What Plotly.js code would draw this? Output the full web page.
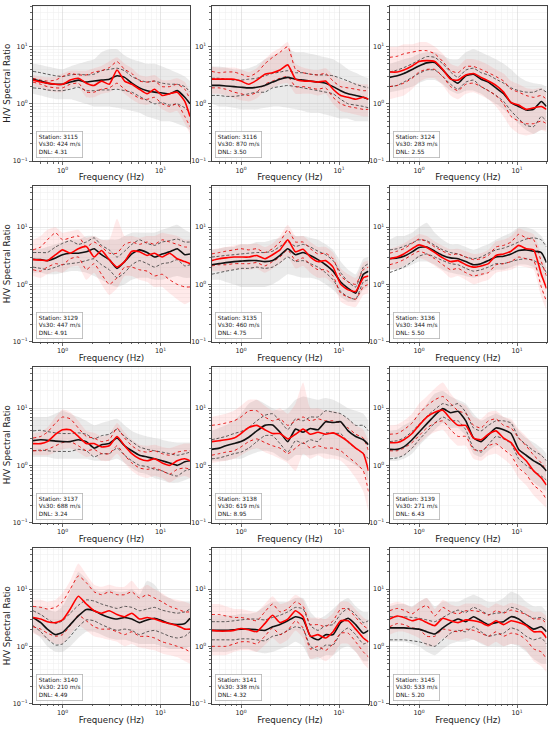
<!DOCTYPE html>
<html><head><meta charset="utf-8">
<script src="https://cdn.plot.ly/plotly-3.0.1.min.js"></script>
<style>body{margin:0;background:#fff}#chart{width:550px;height:729px}</style>
</head><body><div id="chart"></div>
<script>
// Frequency sample points (Hz)
const FREQ = [0.5,0.6,0.7,0.85,1.0,1.2,1.45,1.75,2.1,2.5,3.0,3.6,4.3,5.1,6.1,7.3,8.7,10.4,12.4,14.8,17.7,20];

const stations = ['3115','3116','3124','3129','3135','3136','3137','3138','3139','3140','3141','3145'];
const vs30 = [424,870,283,447,460,344,688,619,271,210,338,533];
const dnl = ['4.31','3.50','2.55','4.91','4.75','5.50','3.24','8.95','6.43','4.49','4.32','5.20'];

const xTickVals = [1,10];
const xTickText = ['10<sup>0</sup>','10<sup>1</sup>'];
const yTickVals = [0.1,1,10];
const yTickText = ['10<sup>−1</sup>','10<sup>0</sup>','10<sup>1</sup>'];
const xMinorVals = [0.6,0.7,0.8,0.9,2,3,4,5,6,7,8,9,20];
const yMinorVals = [0.2,0.3,0.4,0.5,0.6,0.7,0.8,0.9,2,3,4,5,6,7,8,9,20,30,40,50];

// envelope of all individual (grey) curves
const grayHi = [
 [5.0,4.8,4.5,4.2,4.0,4.5,5.0,5.5,6.0,8.0,9.0,9.0,7.0,6.0,5.5,5.0,5.0,4.5,4.0,3.5,3.0,2.5],
 [4.5,4.5,4.3,4.0,4.0,4.2,4.8,6.0,7.0,8.0,9.0,8.0,8.0,7.5,7.0,6.5,6.0,5.0,4.0,3.5,3.0,2.8],
 [5.0,5.5,6.0,6.5,7.5,8.0,8.0,7.0,6.0,6.0,8.0,9.0,8.0,7.0,6.0,5.0,4.0,3.0,2.5,2.3,2.2,2.0],
 [4.0,4.2,4.5,5.0,5.5,6.0,6.0,7.0,7.0,6.0,6.0,6.0,7.0,8.0,8.0,8.0,8.0,9.0,10,11,9.0,8.0],
 [4.0,4.2,4.5,4.5,5.0,5.0,5.5,5.5,6.0,6.5,8.0,7.0,7.0,6.5,6.0,5.0,4.0,2.5,1.8,1.5,2.8,3.0],
 [6.0,7.0,7.0,8.0,10,12,8.0,6.0,5.0,5.0,4.5,4.0,4.5,5.0,6.0,7.0,8.0,10,10,9.0,7.0,5.0],
 [7.0,7.0,7.0,8.0,9.0,8.0,7.0,6.0,5.0,5.5,6.0,6.5,5.0,4.0,3.5,3.2,3.0,2.8,2.6,2.5,2.5,2.5],
 [4.0,4.5,5.0,6.0,8.0,12,14,12,10,9.0,10,14,16,15,14,15,14,12,10,9.0,8.0,6.0],
 [4.0,4.2,5.0,6.0,8.0,12,18,20,16,14,12,8.0,6.0,7.0,8.0,7.0,6.0,4.0,3.0,2.5,2.0,1.6],
 [5.0,5.0,4.5,4.0,5.0,9.0,20,15,10,9.0,10,9.0,9.0,10,8.0,14,12,8.0,7.0,6.0,6.0,6.0],
 [3.5,3.5,3.5,3.5,3.7,3.7,4.0,5.0,6.0,6.0,6.0,7.0,7.0,4.0,3.0,3.5,4.5,6.0,7.0,5.0,4.0,4.0],
 [5.0,5.5,5.5,5.0,6.0,7.0,5.0,6.0,6.0,6.0,7.0,8.0,7.0,6.0,6.0,7.0,9.0,8.0,6.0,5.0,5.0,4.0]
];
const grayLo = [
 [1.5,1.4,1.3,1.2,1.2,1.2,1.1,1.0,0.9,0.9,0.9,0.85,0.8,0.75,0.7,0.6,0.55,0.5,0.5,0.45,0.4,0.35],
 [1.0,0.9,0.9,0.85,0.8,0.8,0.8,0.85,0.9,0.9,0.85,0.8,0.75,0.7,0.7,0.65,0.6,0.55,0.55,0.5,0.5,0.5],
 [1.6,1.7,1.8,2.0,2.3,2.6,2.6,2.2,1.7,1.5,1.7,1.7,1.5,1.2,1.0,0.8,0.6,0.45,0.35,0.3,0.35,0.35],
 [1.6,1.6,1.5,1.5,1.6,1.7,1.7,1.6,1.4,1.2,1.0,0.9,1.0,1.2,1.3,1.3,1.2,1.2,1.3,1.4,1.3,1.3],
 [1.2,1.2,1.1,1.0,0.9,0.9,0.9,0.9,1.0,1.2,1.5,1.4,1.3,1.3,1.2,1.0,0.8,0.6,0.5,0.5,0.8,0.9],
 [1.8,1.8,1.9,2.2,2.5,2.5,2.2,1.8,1.6,1.5,1.4,1.3,1.4,1.6,1.8,1.8,2.0,2.2,2.2,2.0,1.3,1.0],
 [1.4,1.4,1.4,1.3,1.3,1.3,1.3,1.3,1.2,1.2,1.2,1.3,1.1,0.9,0.75,0.7,0.6,0.55,0.5,0.5,0.55,0.6],
 [1.2,1.2,1.2,1.3,1.3,1.5,1.7,1.8,1.7,1.4,1.2,1.5,1.5,1.5,1.6,1.6,1.5,1.4,1.2,1.0,0.8,0.5],
 [1.2,1.2,1.3,1.6,2.2,3.0,4.2,5.5,4.5,4.5,3.3,1.6,1.4,1.8,2.2,2.0,1.6,1.0,0.7,0.5,0.4,0.35],
 [1.8,1.4,1.0,0.8,0.8,1.0,1.4,1.8,1.8,1.6,1.4,1.3,1.3,1.2,1.1,1.1,1.1,1.0,0.9,0.9,0.9,1.0],
 [0.8,0.8,0.8,0.85,0.9,0.9,0.8,0.75,0.8,0.9,1.0,1.2,1.0,0.6,0.6,0.7,0.7,0.9,1.0,0.8,0.55,0.55],
 [1.2,1.2,1.2,1.1,1.0,0.8,0.7,0.9,1.1,1.2,1.2,1.3,1.1,1.0,1.0,1.0,1.1,1.0,0.8,0.6,0.5,0.5]
];
// envelope of the individual selected (pink) curves
const pinkHi = [
 [3.2,3.0,2.9,3.0,3.4,3.8,3.8,3.8,4.2,4.6,5.5,6.5,5.0,4.2,3.2,3.0,3.2,2.6,2.6,2.8,2.4,1.6],
 [4.5,4.3,4.3,4.3,4.0,3.6,4.2,6.0,8.0,9.5,12,5.0,4.3,4.0,3.9,4.2,3.2,2.6,2.4,2.3,2.2,2.2],
 [10,10,11,11,12,12,10,7.5,5.0,4.5,6.0,6.0,5.5,4.8,4.0,3.4,2.5,2.2,1.9,1.8,1.9,1.6],
 [6.0,7.0,9.0,10,8.0,8.5,9.0,6.5,7.0,6.0,6.0,14,7.0,7.0,6.5,7.0,7.0,8.0,7.5,7.0,6.0,6.0],
 [4.0,4.3,4.5,4.8,5.0,5.0,5.2,4.5,5.2,7.0,11,7.0,7.0,5.5,4.5,4.5,3.6,1.9,1.5,1.3,2.4,2.6],
 [4.2,4.6,5.2,6.4,7.6,7.0,5.6,4.7,4.1,4.2,3.8,3.4,3.5,4.0,5.6,6.0,7.0,9.5,8.5,7.5,3.4,1.9],
 [3.6,3.9,4.6,7.0,9.5,8.5,6.0,4.0,3.7,3.2,3.5,5.5,3.8,2.8,2.3,2.2,2.3,2.1,2.0,2.2,2.4,2.4],
 [7.0,7.5,8.0,9.0,11,14,14,11,9.0,10,8.0,12,28,10,10,9.0,9.0,8.0,6.5,5.0,4.2,2.6],
 [5.0,5.2,6.0,8.0,12,16,22,28,18,13,11,7.0,6.5,8.5,9.0,7.0,6.5,4.3,3.2,2.2,1.6,1.2],
 [6.5,6.5,6.0,6.5,8.5,14,28,18,12,11,12,11,11,14,10,12,10,8.5,7.0,6.5,6.0,5.5],
 [5.5,5.5,5.0,4.5,4.5,4.2,4.0,5.5,7.5,5.5,6.0,8.0,6.5,3.2,3.2,3.0,3.8,6.0,6.0,4.4,3.2,2.8],
 [5.5,6.0,5.6,4.8,6.0,7.0,4.5,6.5,5.4,5.0,5.6,5.6,5.4,4.7,5.6,5.1,5.8,5.4,4.8,4.0,4.0,3.4]
];
const pinkLo = [
 [2.1,1.9,1.7,1.6,1.6,1.9,2.0,1.3,1.3,1.5,1.6,1.9,1.5,1.2,1.0,0.95,1.05,0.8,0.7,0.75,0.45,0.3],
 [1.5,1.5,1.4,1.25,1.15,1.1,1.25,1.7,1.9,2.2,2.3,1.5,1.5,1.5,1.4,1.5,1.0,0.75,0.7,0.65,0.6,0.6],
 [1.2,1.3,1.4,1.8,2.4,2.8,2.8,2.1,1.4,1.2,1.5,1.6,1.4,1.2,0.9,0.6,0.38,0.3,0.28,0.3,0.35,0.32],
 [1.4,1.3,1.5,1.7,1.6,2.0,2.1,1.2,1.6,1.0,0.65,0.85,1.4,1.4,1.2,1.1,0.9,0.9,0.7,0.55,0.45,0.5],
 [1.7,1.7,1.7,1.8,1.8,1.8,1.9,1.6,1.9,2.3,3.0,1.9,2.1,1.6,1.3,1.3,1.0,0.5,0.42,0.4,0.65,0.7],
 [1.8,1.9,2.1,2.6,2.9,2.6,2.1,1.7,1.3,1.4,1.2,1.0,1.1,1.2,1.6,1.7,1.8,2.1,2.0,1.8,0.6,0.35],
 [1.5,1.5,1.5,1.7,1.9,2.0,1.7,1.4,1.5,1.2,1.2,1.6,1.1,0.8,0.65,0.6,0.65,0.6,0.5,0.6,0.65,0.6],
 [1.1,1.15,1.2,1.3,1.5,1.8,2.0,1.7,1.5,1.3,1.1,0.8,1.6,1.3,1.5,1.3,1.3,1.2,0.9,0.6,0.35,0.15],
 [1.4,1.4,1.5,1.9,2.4,3.2,3.8,4.2,2.9,2.2,2.2,1.3,1.2,1.5,1.6,1.3,1.0,0.6,0.45,0.3,0.22,0.18],
 [1.7,1.5,1.3,1.1,1.1,1.6,2.3,1.9,1.5,1.4,1.3,1.2,1.0,1.1,0.95,0.9,0.85,0.75,0.7,0.65,0.55,0.5],
 [0.7,0.7,0.7,0.8,0.85,0.85,0.8,1.05,1.4,1.1,1.3,1.9,1.4,0.6,0.65,0.55,0.7,1.1,1.1,0.8,0.5,0.4],
 [1.6,1.8,1.8,1.6,1.4,1.0,1.0,1.4,1.3,1.25,1.4,1.3,1.15,1.0,1.2,1.0,1.1,1.05,0.85,0.55,0.45,0.35]
];
// mean and +/- std of all records (black)
const blackMean = [
 [2.7,2.5,2.3,2.2,2.2,2.4,2.6,2.4,2.5,2.6,2.7,3.1,2.9,2.3,1.9,1.7,1.6,1.55,1.5,1.7,1.3,1.0],
 [2.1,2.1,2.05,2.0,1.95,1.9,1.95,2.1,2.4,2.7,2.9,2.7,2.6,2.5,2.4,2.3,2.0,1.7,1.5,1.4,1.3,1.2],
 [2.9,3.1,3.4,4.0,4.6,5.2,5.3,3.9,2.8,2.3,3.1,3.3,2.7,2.4,1.9,1.5,1.05,0.9,0.78,0.8,1.1,0.9],
 [2.75,2.7,2.6,2.9,3.3,3.5,3.5,3.7,4.2,3.3,2.7,1.9,2.5,3.4,4.0,3.6,3.0,3.4,3.7,4.2,3.3,3.4],
 [2.2,2.3,2.4,2.5,2.55,2.6,2.6,2.5,2.6,3.2,4.2,3.3,3.6,3.2,2.7,2.2,1.7,1.1,0.85,0.7,1.5,1.7],
 [2.8,2.9,3.1,3.7,4.4,4.5,3.8,3.2,2.9,2.8,2.5,2.2,2.3,2.6,3.0,3.1,3.4,3.9,4.0,3.8,3.6,2.4],
 [2.7,2.8,2.75,2.65,2.6,2.6,2.8,2.6,2.0,2.3,2.4,3.0,2.2,1.8,1.5,1.4,1.3,1.2,1.1,1.0,1.15,1.2],
 [1.9,2.0,2.2,2.4,2.6,3.1,4.0,5.0,5.1,3.8,2.6,4.3,3.8,4.4,4.2,5.8,5.6,5.8,4.0,3.2,2.8,2.3],
 [1.9,1.9,2.1,2.8,3.8,5.3,7.5,9.8,8.3,8.8,6.0,3.0,2.6,3.4,4.5,4.2,3.6,1.9,1.5,1.2,1.0,0.8],
 [3.2,2.6,2.0,1.6,1.75,2.4,3.4,4.4,4.2,3.6,3.2,3.0,3.2,3.0,2.6,2.9,3.1,2.8,2.5,2.4,2.5,3.1],
 [1.9,1.9,1.9,1.95,2.0,2.0,1.95,1.9,2.2,2.4,2.8,3.3,3.0,1.5,1.3,1.6,1.6,2.6,3.1,2.4,1.7,1.9],
 [2.1,2.1,2.1,2.05,2.0,1.8,1.65,2.1,2.6,3.0,2.7,3.3,2.8,2.4,2.6,2.7,3.3,3.0,2.4,2.0,2.2,1.8]
];
const blackHi = [
 [3.7,3.5,3.3,3.1,3.0,3.2,3.3,3.2,3.3,3.8,4.0,4.2,3.8,3.0,2.6,2.4,2.5,2.3,2.2,2.2,2.0,1.6],
 [2.8,2.8,2.7,2.6,2.6,2.7,2.8,3.1,3.4,3.6,3.8,3.5,3.5,3.3,3.2,3.2,3.1,2.8,2.5,2.2,2.0,1.9],
 [3.6,3.9,4.3,5.0,5.8,6.7,6.5,5.0,3.6,2.9,3.9,4.2,3.5,3.2,2.7,2.3,1.9,1.7,1.6,1.6,1.8,1.6],
 [3.6,3.6,3.6,4.5,5.2,5.8,5.0,5.5,6.5,4.8,4.0,3.0,3.8,5.0,6.0,5.2,4.8,5.5,5.8,6.2,5.5,5.5],
 [3.0,3.1,3.2,3.3,3.4,3.5,3.6,3.6,3.8,4.6,5.6,4.6,5.0,4.5,3.8,3.3,2.6,1.6,1.1,0.9,2.0,2.3],
 [4.0,4.2,4.6,5.3,6.0,5.8,4.8,4.0,3.6,3.4,3.0,2.8,3.0,3.5,4.0,4.3,4.8,5.5,6.2,6.5,6.0,4.5],
 [4.0,4.1,3.9,3.7,3.6,3.6,3.7,3.5,2.9,3.3,3.5,4.3,3.2,2.6,2.1,1.9,1.8,1.7,1.6,1.5,1.6,1.7],
 [2.8,3.0,3.2,3.6,3.9,4.6,6.0,7.5,8.0,6.0,4.2,6.5,6.0,7.0,7.0,9.0,8.5,8.0,6.5,5.0,5.0,4.0],
 [2.6,2.7,3.0,3.9,5.2,7.2,9.5,12,11,12,8.5,4.5,4.0,5.0,6.0,6.0,5.5,3.0,2.3,1.8,1.5,1.2],
 [4.2,3.6,3.0,2.5,2.8,3.8,5.2,6.5,6.2,5.5,5.0,4.6,5.0,4.8,4.2,4.5,4.8,4.3,4.0,3.8,4.0,4.5],
 [2.7,2.7,2.7,2.8,2.9,3.0,3.0,2.9,3.2,3.5,4.0,4.8,4.5,2.3,1.9,2.3,2.4,3.7,4.6,3.6,2.6,2.8],
 [3.3,3.3,3.3,3.2,3.1,2.9,2.7,3.2,3.8,4.3,3.9,4.8,4.2,3.6,3.8,3.9,4.8,4.4,3.6,3.1,3.2,2.8]
];
const blackLo = [
 [1.9,1.85,1.75,1.7,1.7,1.8,1.95,1.7,1.7,1.75,1.75,1.8,1.7,1.6,1.35,1.15,1.0,1.05,0.95,1.0,0.85,0.7],
 [1.4,1.4,1.35,1.35,1.4,1.5,1.6,1.6,1.9,2.0,2.1,2.0,1.9,1.8,1.7,1.6,1.5,1.2,1.0,0.95,0.9,0.85],
 [2.0,2.1,2.4,2.9,3.4,3.9,3.9,3.0,2.2,1.8,2.4,2.6,2.0,1.7,1.4,1.1,0.75,0.55,0.42,0.4,0.6,0.5],
 [2.0,1.9,1.8,2.0,2.2,2.3,2.4,2.6,2.8,2.2,1.8,1.3,1.6,2.2,2.6,2.3,2.0,2.3,2.4,2.7,2.1,2.2],
 [1.5,1.6,1.7,1.8,1.9,1.9,2.0,1.9,2.0,2.4,3.0,2.5,2.6,2.3,2.0,1.6,1.2,0.75,0.6,0.55,1.1,1.2],
 [1.6,1.8,2.0,2.5,3.1,3.4,3.0,2.6,2.3,2.2,1.9,1.7,1.8,2.0,2.3,2.3,2.5,2.7,2.8,2.6,2.2,1.6],
 [1.8,1.85,1.8,1.75,1.75,1.75,1.9,1.8,1.4,1.6,1.6,2.0,1.5,1.2,1.0,0.95,0.85,0.8,0.7,0.65,0.8,0.85],
 [1.3,1.35,1.45,1.6,1.7,2.0,2.6,3.3,3.3,2.4,1.7,2.7,2.4,2.8,2.6,3.7,3.6,3.6,2.5,2.0,1.6,1.3],
 [1.3,1.35,1.5,2.0,2.8,3.9,5.5,7.0,6.0,6.0,4.2,2.0,1.7,2.3,3.2,2.9,2.4,1.3,1.0,0.8,0.65,0.55],
 [2.3,1.8,1.35,1.05,1.1,1.5,2.2,2.9,2.8,2.4,2.1,1.9,2.0,1.9,1.6,1.8,1.9,1.7,1.5,1.4,1.5,1.8],
 [1.3,1.3,1.3,1.3,1.35,1.35,1.3,1.25,1.5,1.6,1.9,2.2,2.0,1.0,0.85,1.05,1.05,1.7,2.1,1.6,1.1,1.2],
 [1.3,1.3,1.3,1.25,1.2,1.1,1.0,1.3,1.7,1.9,1.8,2.2,1.8,1.5,1.6,1.7,2.1,1.9,1.5,1.3,1.4,1.1]
];
// mean and +/- std of the selected (red) records
const redMean = [
 [2.6,2.4,2.3,2.2,2.2,2.6,2.8,2.3,2.1,2.5,2.2,3.9,2.5,2.2,1.8,1.5,1.8,1.4,1.5,1.6,1.1,0.6],
 [2.7,2.7,2.7,2.7,2.5,2.2,2.6,3.3,3.5,3.9,4.8,2.7,2.5,2.5,2.4,2.5,1.8,1.4,1.3,1.2,1.3,1.2],
 [3.6,3.6,3.9,4.6,5.5,5.7,5.5,4.0,2.7,2.6,3.2,3.4,2.9,2.5,2.1,1.6,1.05,0.95,0.8,0.85,0.9,0.8],
 [2.7,2.65,2.6,3.3,4.0,3.5,4.2,4.6,3.0,3.9,2.7,2.0,2.5,3.8,3.7,3.2,3.5,3.0,3.5,2.8,2.5,2.3],
 [2.6,2.8,2.9,3.0,3.0,3.0,3.2,2.8,3.3,4.0,6.0,3.7,4.1,3.0,2.5,2.6,2.0,1.0,0.8,0.75,1.3,1.4],
 [2.8,3.0,3.4,4.2,4.9,4.4,3.6,2.9,2.5,2.6,2.2,2.0,2.1,2.3,3.2,3.4,3.8,4.8,4.2,4.0,1.5,0.85],
 [2.4,2.4,2.6,3.5,4.2,4.2,3.2,2.4,2.4,2.1,2.2,3.2,2.2,1.6,1.3,1.2,1.3,1.1,1.0,1.2,1.3,1.2],
 [2.6,2.7,2.8,3.0,3.6,4.6,5.0,4.2,3.6,3.6,2.9,3.5,4.3,3.5,3.8,3.5,3.7,3.2,2.6,2.0,1.6,0.8],
 [2.5,2.5,2.8,3.6,5.0,7.0,8.5,9.2,6.5,5.0,5.0,3.0,2.8,3.5,4.0,3.0,2.5,1.6,1.2,0.8,0.6,0.45],
 [3.2,3.0,2.7,2.6,2.9,4.5,7.5,5.5,4.2,3.8,4.2,3.6,3.3,3.8,3.0,3.2,3.0,2.7,2.5,2.3,2.0,2.0],
 [1.9,1.85,1.85,1.9,2.05,1.95,1.8,2.5,3.5,2.6,3.0,4.2,3.3,1.5,1.6,1.4,1.8,2.8,2.8,2.0,1.4,1.2],
 [3.0,3.4,3.2,2.8,3.0,2.6,2.3,3.1,2.8,2.6,2.9,2.8,2.6,2.3,2.8,2.4,2.8,2.6,2.3,1.8,1.8,1.4]
];
const redHi = [
 [2.8,2.6,2.5,2.6,3.0,3.4,3.2,3.2,3.6,3.8,4.3,5.5,4.0,3.4,2.5,2.4,2.5,2.0,2.0,2.2,1.8,1.2],
 [3.7,3.5,3.6,3.6,3.3,3.0,3.5,5.0,6.5,8.0,10,4.0,3.5,3.3,3.2,3.4,2.5,2.0,1.9,1.8,1.7,1.7],
 [6.5,6.8,7.5,8.0,8.5,8.5,7.5,5.5,3.8,3.5,4.5,4.5,4.0,3.5,3.0,2.5,1.8,1.6,1.4,1.3,1.4,1.2],
 [4.0,4.5,6.0,8.0,6.0,6.5,7.0,4.5,5.5,4.5,3.5,3.5,5.0,5.5,5.0,5.5,5.0,6.0,5.5,5.0,4.5,4.5],
 [3.4,3.6,3.8,4.0,4.2,4.0,4.2,3.6,4.2,5.5,9.0,5.5,5.5,4.2,3.4,3.5,2.8,1.4,1.1,1.0,1.8,2.0],
 [3.5,3.8,4.2,5.2,6.2,5.6,4.5,3.8,3.3,3.4,3.0,2.7,2.8,3.2,4.5,4.8,5.5,7.5,6.5,6.0,2.5,1.4],
 [3.0,3.2,3.8,5.5,7.0,6.5,4.5,3.2,3.0,2.6,2.8,4.5,3.0,2.2,1.8,1.7,1.8,1.6,1.5,1.7,1.8,1.8],
 [5.0,5.2,5.5,6.0,7.0,9.0,9.0,7.0,6.0,6.5,5.0,6.0,7.0,6.0,6.5,6.0,6.0,5.5,4.5,3.5,3.0,1.8],
 [3.5,3.6,4.2,5.5,8.0,11,14,16,12,9.0,8.0,5.0,4.5,6.0,6.5,5.0,4.5,3.0,2.2,1.5,1.1,0.8],
 [5.0,4.8,4.5,4.8,6.0,10,17,13,9.0,8.0,9.0,8.0,8.0,9.0,7.0,8.0,7.0,6.0,5.0,4.5,4.0,4.0],
 [3.6,3.6,3.4,3.2,3.2,3.0,2.8,4.0,5.5,4.0,4.5,6.0,5.0,2.4,2.4,2.2,2.8,4.5,4.5,3.2,2.3,2.0],
 [4.2,4.6,4.3,3.7,4.5,5.2,3.4,4.8,4.0,3.7,4.2,4.2,4.0,3.5,4.2,3.8,4.3,4.0,3.6,3.0,3.0,2.5]
];
const redLo = [
 [2.4,2.2,2.0,1.9,1.9,2.2,2.3,1.6,1.6,1.8,1.9,2.3,1.8,1.5,1.25,1.2,1.3,1.0,0.9,1.0,0.6,0.4],
 [1.9,1.9,1.8,1.6,1.5,1.4,1.6,2.2,2.5,2.8,3.0,2.0,2.0,1.9,1.8,1.9,1.3,1.0,0.9,0.85,0.8,0.8],
 [2.0,2.1,2.3,2.8,3.6,4.0,4.0,3.0,2.0,1.7,2.2,2.3,2.0,1.7,1.4,1.0,0.6,0.5,0.45,0.45,0.5,0.45],
 [1.8,1.7,2.0,2.3,2.2,2.8,3.0,1.8,2.3,1.5,1.0,1.3,2.0,2.0,1.8,1.7,1.4,1.5,1.2,1.0,0.9,0.9],
 [2.1,2.2,2.2,2.3,2.3,2.3,2.4,2.1,2.5,3.0,4.0,2.6,2.9,2.2,1.8,1.8,1.4,0.7,0.6,0.55,0.9,1.0],
 [2.2,2.4,2.7,3.3,3.8,3.4,2.8,2.2,1.8,1.9,1.6,1.4,1.5,1.6,2.2,2.3,2.5,3.0,2.8,2.6,0.9,0.5],
 [1.8,1.8,1.9,2.2,2.5,2.6,2.2,1.8,1.9,1.6,1.6,2.2,1.5,1.1,0.9,0.85,0.9,0.8,0.7,0.85,0.9,0.85],
 [1.5,1.6,1.7,1.8,2.1,2.6,2.9,2.5,2.2,2.0,1.6,2.0,2.5,2.0,2.2,2.0,2.0,1.8,1.4,1.1,0.8,0.35],
 [1.8,1.8,2.0,2.5,3.3,4.5,5.5,6.0,4.2,3.2,3.2,1.9,1.8,2.2,2.4,1.9,1.5,0.9,0.7,0.45,0.35,0.25],
 [2.2,2.0,1.7,1.5,1.6,2.3,3.5,2.8,2.2,2.0,2.0,1.8,1.6,1.8,1.5,1.5,1.4,1.2,1.1,1.0,0.9,0.8],
 [1.0,1.0,1.0,1.1,1.2,1.2,1.1,1.5,2.1,1.6,1.9,2.8,2.1,0.9,1.0,0.85,1.1,1.7,1.7,1.2,0.8,0.65],
 [2.2,2.5,2.4,2.1,2.0,1.5,1.5,2.0,1.9,1.8,2.0,1.9,1.7,1.5,1.8,1.5,1.7,1.6,1.3,0.9,0.8,0.6]
];

const W = 550, H = 729;
const colLeft = [33, 211.5, 389.5];
const PW = 157;
const rowTop = [5.5, 186, 367, 548];
const PH = 155.5;

const traces = [];
const layout = {
  width: W, height: H,
  margin: {l: 0, r: 0, t: 0, b: 0},
  showlegend: false,
  paper_bgcolor: '#ffffff', plot_bgcolor: '#ffffff',
  font: {family: 'DejaVu Sans, sans-serif', color: '#222'},
  annotations: []
};

function axisBase() {
  return {
    showline: true, mirror: true, linecolor: '#444', linewidth: 1,
    ticks: 'outside', ticklen: 3, tickwidth: 0.8, tickcolor: '#444',
    showgrid: true, gridcolor: '#d6d6d6', gridwidth: 0.6,
    zeroline: false, tickfont: {size: 6.5, color: '#222'},
    type: 'log', fixedrange: true
  };
}

const SM = 0.5;
for (let i = 0; i < 12; i++) {
  const r = Math.floor(i / 3), c = i % 3, n = i + 1;
  const sfx = n > 1 ? String(n) : '';
  const xa = 'x' + sfx, ya = 'y' + sfx;
  const xd = [colLeft[c] / W, (colLeft[c] + PW) / W];
  const yd = [1 - (rowTop[r] + PH) / H, 1 - rowTop[r] / H];

  const xax = axisBase();
  Object.assign(xax, {
    domain: xd, anchor: ya,
    range: [Math.log10(0.5), Math.log10(20)],
    tickmode: 'array', tickvals: xTickVals, ticktext: xTickText,
    minor: {tickmode: 'array', tickvals: xMinorVals, ticks: 'outside', ticklen: 1.8,
            tickcolor: '#444', showgrid: true, gridcolor: '#ededed', gridwidth: 0.5},
    title: {text: 'Frequency (Hz)', font: {size: 8.7, color: '#222'}, standoff: 0}
  });
  const yax = axisBase();
  Object.assign(yax, {
    domain: yd, anchor: xa,
    range: [-1, 1.72],
    tickmode: 'array', tickvals: yTickVals, ticktext: yTickText,
    minor: {tickmode: 'array', tickvals: yMinorVals, ticks: 'outside', ticklen: 1.8,
            tickcolor: '#444', showgrid: true, gridcolor: '#ededed', gridwidth: 0.5}
  });
  if (c === 0) {
    yax.title = {text: 'H/V Spectral Ratio', font: {size: 8.7, color: '#222'}, standoff: 0};
  }
  layout['xaxis' + sfx] = xax;
  layout['yaxis' + sfx] = yax;

  const common = {x: FREQ, xaxis: xa, yaxis: ya, mode: 'lines', hoverinfo: 'skip'};
  const none = {width: 0, shape: 'spline', smoothing: SM, color: 'rgba(0,0,0,0)'};
  // grey cloud of individual curves
  traces.push(Object.assign({}, common, {y: grayHi[i], line: none}));
  traces.push(Object.assign({}, common, {y: grayLo[i], fill: 'tonexty', fillcolor: 'rgba(185,185,185,0.3)', line: none}));
  // pink cloud of selected individual curves
  traces.push(Object.assign({}, common, {y: pinkHi[i], line: none}));
  traces.push(Object.assign({}, common, {y: pinkLo[i], fill: 'tonexty', fillcolor: 'rgba(255,90,90,0.13)', line: none}));
  // black std
  traces.push(Object.assign({}, common, {y: blackHi[i], line: {color: '#333', width: 0.8, dash: '3px,2px', shape: 'spline', smoothing: SM}}));
  traces.push(Object.assign({}, common, {y: blackLo[i], line: {color: '#333', width: 0.8, dash: '3px,2px', shape: 'spline', smoothing: SM}}));
  // red std
  traces.push(Object.assign({}, common, {y: redHi[i], line: {color: '#e40000', width: 0.9, dash: 'dot', shape: 'spline', smoothing: SM}}));
  traces.push(Object.assign({}, common, {y: redLo[i], line: {color: '#e40000', width: 0.9, dash: 'dot', shape: 'spline', smoothing: SM}}));
  // means
  traces.push(Object.assign({}, common, {y: blackMean[i], line: {color: '#111', width: 1.6, shape: 'spline', smoothing: SM}}));
  traces.push(Object.assign({}, common, {y: redMean[i], line: {color: '#ff0000', width: 1.6, shape: 'spline', smoothing: SM}}));

  layout.annotations.push({
    xref: 'paper', yref: 'paper',
    x: (colLeft[c] + 3) / W, y: 1 - (rowTop[r] + PH - 3) / H,
    xanchor: 'left', yanchor: 'bottom', align: 'left', showarrow: false,
    text: 'Station: ' + stations[i] + '<br>Vs30: ' + vs30[i] + ' m/s<br>DNL: ' + dnl[i],
    font: {size: 5.8, color: '#222'},
    bgcolor: 'rgba(255,255,255,0.85)', bordercolor: '#b5b5b5', borderwidth: 0.8, borderpad: 2
  });
}

Plotly.newPlot('chart', traces, layout, {staticPlot: true, displayModeBar: false});
</script>
</body></html>
